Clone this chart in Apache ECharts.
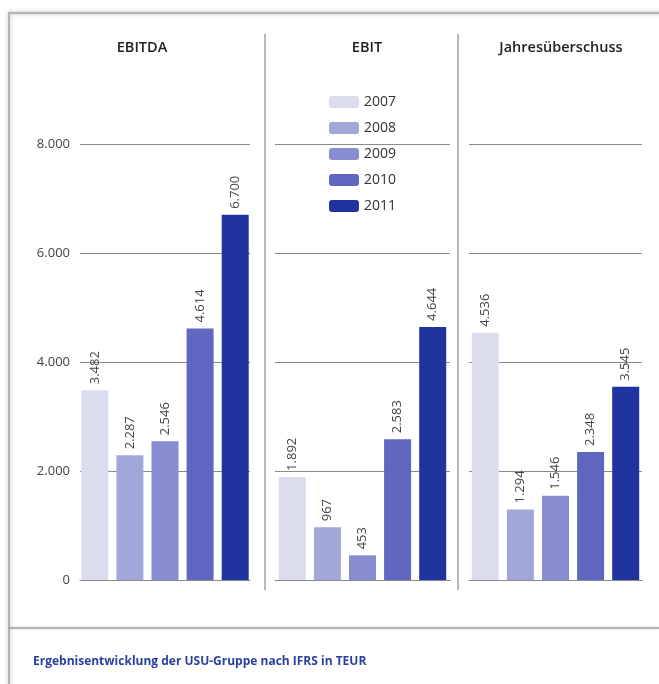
<!DOCTYPE html>
<html><head><meta charset="utf-8">
<script src="https://cdn.jsdelivr.net/npm/echarts@6/dist/echarts.min.js"></script>
<style>html,body{margin:0;padding:0;background:#fff;}#c{width:659px;height:684px;}</style>
</head><body><div id="c"></div>
<script>
const panels = ['EBITDA', 'EBIT', 'Jahresüberschuss'];
const years = ['2007', '2008', '2009', '2010', '2011'];
const colors = ['#dcdcef', '#a2a7da', '#878dd0', '#5f67c0', '#1f349f'];
// values[year][panel]
const v2007 = [3482, 1892, 4536];
const v2008 = [2287, 967, 1294];
const v2009 = [2546, 453, 1546];
const v2010 = [4614, 2583, 2348];
const v2011 = [6700, 4644, 3545];
const yearValues = [v2007, v2008, v2009, v2010, v2011];
const yTicks = [0, 2000, 4000, 6000, 8000];
const caption = 'Ergebnisentwicklung der USU-Gruppe nach IFRS in TEUR';

const fmt = n => String(n).replace(/\B(?=(\d{3})+(?!\d))/g, '.');
const font = '"Open Sans", sans-serif';
const gridDefs = [{left: 80, width: 170}, {left: 275, width: 175}, {left: 469, width: 173}];
const centers = [137, 362, 556];

const grids = gridDefs.map(g => ({left: g.left, width: g.width, top: 144, bottom: 104}));
const xAxes = panels.map((p, i) => ({
  type: 'category', gridIndex: i, data: [p],
  axisLine: {show: true, lineStyle: {color: '#8a8a8a', width: 1}},
  axisTick: {show: false}, axisLabel: {show: false}
}));
const yAxes = panels.map((p, i) => ({
  type: 'value', gridIndex: i, min: yTicks[0], max: yTicks[yTicks.length - 1], interval: 2000,
  axisLine: {show: false}, axisTick: {show: false},
  axisLabel: {show: i === 0, formatter: fmt, color: '#444', fontSize: 13, fontFamily: font, margin: 10},
  splitLine: {show: true, lineStyle: {color: '#8a8a8a', width: 1}}
}));
const series = [];
panels.forEach((p, pi) => {
  years.forEach((y, yi) => {
    series.push({
      type: 'bar', name: y, xAxisIndex: pi, yAxisIndex: pi,
      data: [yearValues[yi][pi]],
      barWidth: 27, barGap: '30%',
      itemStyle: {color: colors[yi]},
      label: {show: true, position: 'top', rotate: 90, align: 'left', verticalAlign: 'middle',
        distance: 6, formatter: d => fmt(d.value), color: '#444', fontSize: 13, fontFamily: font}
    });
  });
});

const chart = echarts.init(document.getElementById('c'));
chart.setOption({
  animation: false,
  color: colors,
  title: panels.map((p, i) => ({
    text: p, left: centers[i], top: 35, textAlign: 'center',
    textStyle: {fontSize: 14.5, fontWeight: 600, color: '#222', fontFamily: font}
  })).concat([{
    text: caption, left: 28, top: 651,
    textStyle: {fontSize: 12, fontWeight: 'bold', color: '#2a3fa0', fontFamily: font}
  }]),
  legend: {
    orient: 'vertical', left: 329, top: 95, padding: 0, itemWidth: 30, itemHeight: 12, itemGap: 12,
    data: years, textStyle: {fontSize: 14, color: '#333', fontFamily: font}
  },
  grid: grids, xAxis: xAxes, yAxis: yAxes, series: series,
  graphic: [
    {type: 'rect', shape: {x: 9, y: 13, width: 660, height: 680}, silent: true,
      style: {fill: 'none', stroke: '#b5b5b5', lineWidth: 2, shadowBlur: 4, shadowColor: 'rgba(0,0,0,0.3)'}},
    {type: 'line', shape: {x1: 9, y1: 628, x2: 659, y2: 628}, silent: true,
      style: {stroke: '#a0a0a0', lineWidth: 1.5, shadowBlur: 3, shadowColor: 'rgba(0,0,0,0.2)'}},
    {type: 'line', shape: {x1: 265, y1: 34, x2: 265, y2: 590}, silent: true, style: {stroke: '#8a8a8a', lineWidth: 1.2}},
    {type: 'line', shape: {x1: 458, y1: 34, x2: 458, y2: 590}, silent: true, style: {stroke: '#8a8a8a', lineWidth: 1.2}}
  ]
});
</script></body></html>
